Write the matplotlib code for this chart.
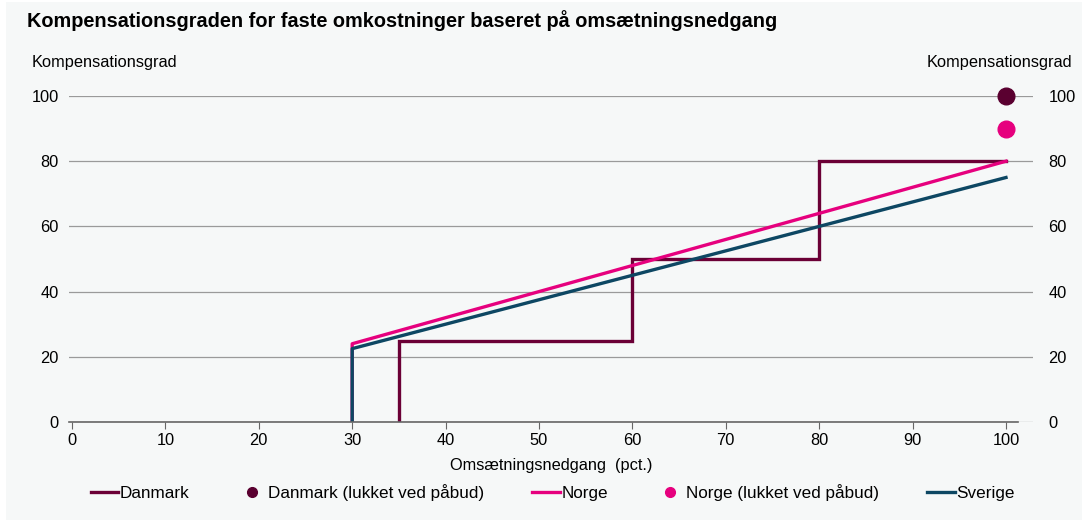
import matplotlib.pyplot as plt
from matplotlib.lines import Line2D
from matplotlib.patches import Rectangle

plt.rcParams['font.family'] = ['Liberation Sans', 'DejaVu Sans']

# Danmark: trappefunktion
dk_x = [35, 35, 60, 60, 80, 80, 100]
dk_y = [0, 25, 25, 50, 50, 80, 80]
# Norge og Sverige: lineære forløb fra 30 pct.
no_x = [30, 30, 100]
no_y = [0, 24, 80]
se_x = [30, 30, 100]
se_y = [0, 22.5, 75]
# lukket ved påbud
dk_punkt = (100, 100)
no_punkt = (100, 90)

x_ticks = [0, 10, 20, 30, 40, 50, 60, 70, 80, 90, 100]
y_ticks = [0, 20, 40, 60, 80, 100]

c_dk = '#6b0036'
c_dk_dot = '#5a0030'
c_no = '#e6007e'
c_se = '#0d4763'

fs = 11.8
W, H = 1088, 522
fig = plt.figure(figsize=(W / 100, H / 100), dpi=100)
fig.patches.append(Rectangle((6 / W, 0.004), 1076 / W, 0.992, transform=fig.transFigure,
                             facecolor='#f6f8f8', edgecolor='none', zorder=-10))

ax = fig.add_axes([69 / W, 1 - 422 / H, (1033 - 69) / W, (422 - 96) / H])
ax.set_facecolor('none')

ax.plot(dk_x, dk_y, color=c_dk, lw=2.4, solid_joinstyle='miter')
ax.plot(no_x, no_y, color=c_no, lw=2.4)
ax.plot(se_x, se_y, color=c_se, lw=2.4)
ax.plot(*dk_punkt, 'o', color=c_dk_dot, ms=12, zorder=5, clip_on=False)
ax.plot(*no_punkt, 'o', color=c_no, ms=12, zorder=5, clip_on=False)

px = (1006 - 72) / 100
ax.set_xlim(-3 / px, 100 + 27 / px)
ax.set_ylim(0, 100)
ax.set_xticks(x_ticks)
ax.set_yticks(y_ticks)
ax.grid(axis='y', color='#9a9a9a', lw=0.9)
ax.set_axisbelow(True)
for s in ['top', 'left', 'right']:
    ax.spines[s].set_visible(False)
ax.spines['bottom'].set_color('#666666')
ax.spines['bottom'].set_linewidth(1.2)
ax.spines['bottom'].set_bounds(-3 / px, 100 + 12 / px)
ax.tick_params(axis='x', length=5, color='#666666', labelsize=fs, pad=3)
ax.tick_params(axis='y', length=0, labelsize=fs, pad=7.5)

ax2 = ax.twinx()
ax2.set_ylim(0, 100)
ax2.set_yticks(y_ticks)
ax2.tick_params(axis='y', length=0, labelsize=fs, pad=11)
for s in ['top', 'left', 'right', 'bottom']:
    ax2.spines[s].set_visible(False)

ax.set_xlabel('Omsætningsnedgang  (pct.)', fontsize=fs, labelpad=7)

fig.text(27 / W, 1 - 21 / H, 'Kompensationsgraden for faste omkostninger baseret på omsætningsnedgang',
         fontsize=14.3, fontweight='bold', va='center', ha='left')
fig.text(32 / W, 1 - 62 / H, 'Kompensationsgrad', fontsize=fs, va='center', ha='left')
fig.text(1072 / W, 1 - 62 / H, 'Kompensationsgrad', fontsize=fs, va='center', ha='right')

handles = [
    Line2D([], [], color=c_dk, lw=2.4),
    Line2D([], [], color=c_dk_dot, marker='o', ls='none', ms=7),
    Line2D([], [], color=c_no, lw=2.4),
    Line2D([], [], color=c_no, marker='o', ls='none', ms=7),
    Line2D([], [], color=c_se, lw=2.4),
]
labels = ['Danmark', 'Danmark (lukket ved påbud)', 'Norge', 'Norge (lukket ved påbud)', 'Sverige']
fig.legend(handles, labels, loc='center', bbox_to_anchor=(553 / W, 1 - 493 / H), ncol=5,
           frameon=False, fontsize=12.3, handlelength=1.6, handletextpad=0.1, columnspacing=2.85)

fig.savefig('out.png', dpi=100, facecolor='white')
